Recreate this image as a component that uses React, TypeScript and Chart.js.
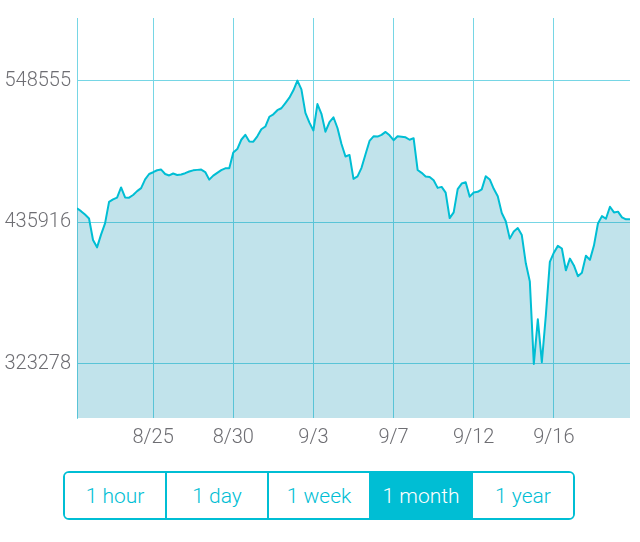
import React, { useEffect, useRef } from "react";
import { Chart, registerables } from "chart.js";

Chart.register(...registerables);

// Price series, one value per sample across the month (8/21 .. 9/20)
const prices: number[] = [
  447078, 444745, 442024, 438913, 421806, 415974, 426083, 435025, 452133, 454077,
  455476, 463563, 455632, 455476, 457576, 460686, 463019, 470017, 474294, 475694,
  477249, 477793, 474294, 473128, 474683, 473517, 473905, 474916, 476238, 477171,
  477560, 477793, 475849, 469784, 472972, 475227, 477405, 478804, 478804, 491401,
  494123, 501510, 505398, 500111, 499955, 504232, 509831, 512008, 519784, 521728,
  524994, 526549, 530670, 534947, 540779, 548555, 541557, 522894, 515118, 508897,
  529893, 522117, 507887, 515429, 519395, 510841, 498167, 488213, 489457, 470406,
  472350, 479193, 490002, 500577, 504232, 503999, 505398, 507731, 505009, 501121,
  504232, 503843, 503454, 501510, 502754, 477482, 475227, 472350, 471961, 469240,
  463252, 464030, 459442, 439224, 443812, 462241, 466674, 467685, 456254, 459520,
  460142, 462086, 472506, 469940, 462475, 456565, 443268, 436736, 422895, 428571,
  431293, 425772, 403299, 388914, 323278, 358821, 324606, 361931, 404466, 411697,
  417141, 415041, 397701, 407032, 401589, 393035, 395757, 409287, 406021, 417374,
  434948, 440780, 438680, 448245, 443735, 444357, 439847, 438214, 438291,
];

// Sample index at which each date label sits
const xTickIndex: number[] = [19, 39, 59, 79, 99, 119];
const xTickLabels: string[] = ["8/25", "8/30", "9/3", "9/7", "9/12", "9/16"];

// Y ticks: min, mid and max of the series
const yTickValues: number[] = [323278, 435916, 548555];
const yAxisMin = 280300;
const yAxisMax = 598300;

const ranges: string[] = ["1 hour", "1 day", "1 week", "1 month", "1 year"];
const selectedRange = "1 month";

const CYAN = "rgb(0,190,212)";
const FILL = "rgba(0,140,172,0.245)";
const GRID = "rgb(118,214,229)";
const LABEL = "#6e6e73";
const FONT_FAMILY = "Roboto, 'Helvetica Neue', Arial, sans-serif";

function PriceChart() {
  const ref = useRef<HTMLCanvasElement | null>(null);
  useEffect(() => {
    if (!ref.current) return;
    const font = { family: FONT_FAMILY, size: 20, weight: "300" as any };
    const chart = new Chart(ref.current, {
      type: "line",
      data: {
        datasets: [
          {
            data: prices.map((v, i) => ({ x: i, y: v })),
            borderColor: CYAN,
            borderWidth: 2,
            backgroundColor: FILL,
            fill: "start",
            pointRadius: 0,
            tension: 0,
            borderJoinStyle: "round",
          },
        ],
      },
      options: {
        animation: false,
        responsive: false,
        layout: { padding: { top: 9, right: 10, left: 0, bottom: 0 } },
        plugins: { legend: { display: false }, tooltip: { enabled: false } },
        scales: {
          x: {
            type: "linear",
            min: 0,
            max: prices.length - 1,
            afterBuildTicks: (s: any) => {
              s.ticks = xTickIndex.map((v) => ({ value: v }));
            },
            ticks: {
              callback: (v: any) => {
                const k = xTickIndex.indexOf(Number(v));
                return k >= 0 ? xTickLabels[k] : "";
              },
              font,
              color: LABEL,
              padding: 8,
              maxRotation: 0,
              autoSkip: false,
            },
            grid: { color: GRID, drawTicks: false, lineWidth: 1 },
            border: { display: false },
            afterFit: (s: any) => {
              s.height = 42;
            },
          },
          y: {
            type: "linear",
            min: yAxisMin,
            max: yAxisMax,
            afterBuildTicks: (s: any) => {
              s.ticks = yTickValues.map((v) => ({ value: v }));
            },
            ticks: {
              callback: (v: any) => String(v),
              font,
              color: LABEL,
              padding: 6,
            },
            grid: { color: GRID, drawTicks: false, lineWidth: 1 },
            border: { display: true, color: GRID, width: 1 },
            afterFit: (s: any) => {
              s.width = 77;
            },
          },
        },
      },
    } as any);
    return () => chart.destroy();
  }, []);
  return (
    <canvas
      ref={ref}
      width={640}
      height={460}
      style={{ position: "absolute", left: 0, top: 0, width: 640, height: 460 }}
    />
  );
}

function RangeButtons() {
  return (
    <div
      style={{
        position: "absolute",
        left: 63,
        top: 471,
        width: 512,
        height: 49,
        boxSizing: "border-box",
        border: `2px solid ${CYAN}`,
        borderRadius: 6,
        display: "flex",
        overflow: "hidden",
        fontFamily: FONT_FAMILY,
        fontWeight: 300,
        fontSize: 21,
      }}
    >
      {ranges.map((r, i) => {
        const sel = r === selectedRange;
        return (
          <div
            key={r}
            style={{
              flex: 1,
              display: "flex",
              alignItems: "center",
              justifyContent: "center",
              borderLeft: i === 0 ? "none" : `2px solid ${CYAN}`,
              background: sel ? CYAN : "#fff",
              color: sel ? "#fff" : CYAN,
            }}
          >
            {r}
          </div>
        );
      })}
    </div>
  );
}

export default function App() {
  return (
    <div style={{ position: "absolute", left: 0, top: 0, width: 640, height: 542 }}>
      <PriceChart />
      <RangeButtons />
    </div>
  );
}
